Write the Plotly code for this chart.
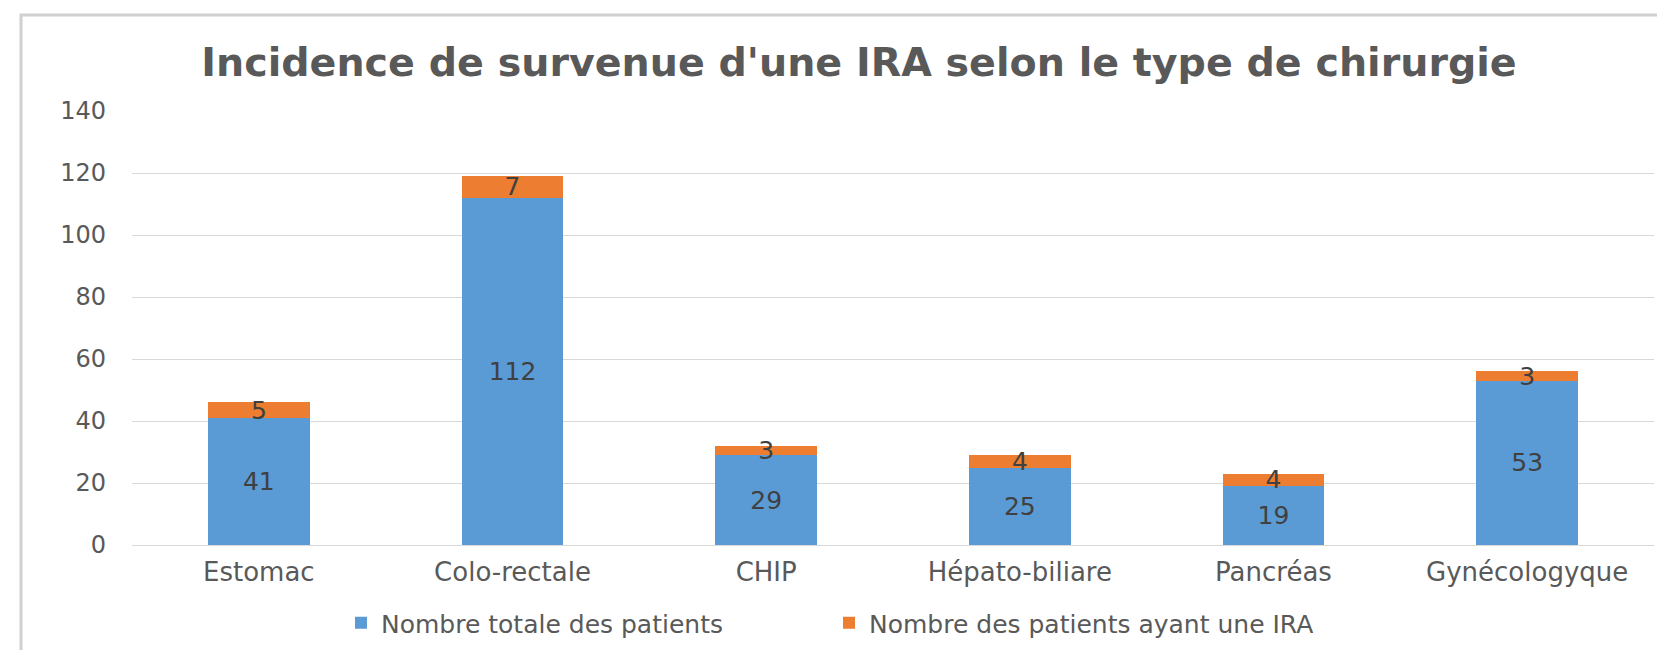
import plotly.graph_objects as go

categories = ["Estomac", "Colo-rectale", "CHIP", "Hépato-biliare", "Pancréas", "Gynécologyque"]
total_patients = [41, 112, 29, 25, 19, 53]
ira_patients = [5, 7, 3, 4, 4, 3]
series_names = ["Nombre totale des patients", "Nombre des patients ayant une IRA"]
y_ticks = [0, 20, 40, 60, 80, 100, 120, 140]
title_text = "Incidence de survenue d'une IRA selon le type de chirurgie"

W, H = 1665, 650
L, R, T, B = 124, 19, 103, 113
pw, ph = W - L - R, H - T - B

font_main = "DejaVu Sans"
label_font = dict(family=font_main, size=25, color="#404040")

fig = go.Figure()
fig.add_trace(go.Bar(
    x=categories, y=total_patients, name=series_names[0],
    marker=dict(color="#5B9BD5", line=dict(width=0)),
    text=[str(v) for v in total_patients], textposition="inside",
    insidetextanchor="middle", textangle=0, constraintext="none",
    textfont=label_font, hoverinfo="skip",
))
fig.add_trace(go.Bar(
    x=categories, y=ira_patients, name=series_names[1],
    marker=dict(color="#ED7D31", line=dict(width=0)),
    text=[str(v) for v in ira_patients], textposition="inside",
    insidetextanchor="middle", textangle=0, constraintext="none",
    textfont=label_font, hoverinfo="skip",
))

def px_x(p):
    return (p - L) / pw

def px_y(p):
    return (H - B - p) / ph

fig.update_layout(
    width=W, height=H,
    margin=dict(l=L, r=R, t=T, b=B, autoexpand=False),
    barmode="stack", bargap=0.6,
    paper_bgcolor="white", plot_bgcolor="white",
    title=dict(text=title_text, x=851 / W, xanchor="center", y=1 - 54 / H, yanchor="middle",
               font=dict(family=font_main, size=39.6, color="#595959", weight="bold")),
    xaxis=dict(showgrid=False, showline=False, ticks="", zeroline=False,
               ticklabelstandoff=9,
               tickfont=dict(family=font_main, size=26, color="#595959")),
    yaxis=dict(range=[0, 140], tickvals=y_ticks, showgrid=True, gridcolor="#D9D9D9", gridwidth=1,
               zeroline=True, zerolinecolor="#D9D9D9", zerolinewidth=1, showline=False, ticks="",
               ticklabelstandoff=25,
               tickfont=dict(family=font_main, size=24, color="#595959")),
    legend=dict(orientation="h", x=px_x(333), xanchor="left", y=px_y(615), yanchor="middle",
                traceorder="normal",
                font=dict(family=font_main, size=25, color="#595959"),
                entrywidth=443, entrywidthmode="pixels", bgcolor="rgba(0,0,0,0)"),
    showlegend=True,
    shapes=[dict(type="rect", xref="paper", yref="paper",
                 x0=px_x(13), x1=px_x(1680), y0=px_y(665), y1=px_y(7),
                 line=dict(color="#D0D0D0", width=3), fillcolor="rgba(0,0,0,0)", layer="below")],
)

fig.write_html("out.html")
